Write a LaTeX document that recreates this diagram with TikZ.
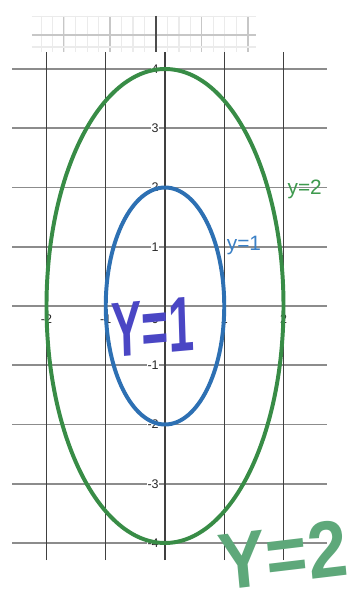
\documentclass[tikz,border=0pt]{standalone}
\usepackage{fontspec}
\setmainfont{Liberation Sans}
\usepackage{xcolor}
\usetikzlibrary{positioning}

\definecolor{ellblue}{HTML}{2D70B3}
\definecolor{ellgreen}{HTML}{388C46}
\definecolor{txtblue}{HTML}{3A80C6}
\definecolor{txtgreen}{HTML}{3E9A4E}
\definecolor{inkpurple}{HTML}{4A46C4}
\definecolor{inkgreen}{HTML}{5EA87A}

\begin{document}
\begin{tikzpicture}[
    hline/.style={draw=black!45, line width=0.9pt},
    vline/.style={draw=black!75, line width=0.55pt},
    thumbfaint/.style={draw=black!8, line width=0.5pt},
    thumbmid/.style={draw=black!22, line width=0.5pt},
    ticklbl/.style={font=\fontsize{6}{6}\selectfont, text=black!85, fill=white, inner sep=0.3pt},
    curve/.style={line width=1.9pt},
    eqlbl/.style={font=\fontsize{10}{12}\selectfont, inner sep=0pt},
    ink/.style={font=\fontsize{22}{22}\selectfont\bfseries, inner sep=0pt, text depth=0pt, transform shape}
]
    % Frame
    \fill[white] (-2.7848,-4.962) rectangle (3.3080,5.1646);
    \useasboundingbox (-2.7848,-4.962) rectangle (3.3080,5.1646);

    % Faint grid thumbnail at the top
    \foreach \i in {-10,...,8} {
        \pgfmathsetmacro{\xx}{-0.152+0.194*\i}
        \draw[thumbfaint] (\xx,4.895) -- (\xx,4.287);
    }
    \foreach \xx in {-1.705,-0.928,0.624,1.401}
        \draw[thumbmid] (\xx,4.895) -- (\xx,4.287);
    \draw[thumbfaint] (-2.245,4.878) -- (1.536,4.878);
    \draw[thumbmid] (-2.245,4.574) -- (1.536,4.574);
    \draw[thumbfaint] (-2.245,4.371) -- (1.536,4.371);
    \draw[draw=black!70, line width=0.5pt] (-0.152,4.895) -- (-0.152,4.287);

    % Grid
    \foreach \y in {-4,...,4}
        \draw[hline] (-2.582,\y) -- (2.734,\y);
    \foreach \x in {-2,...,2}
        \draw[vline] (\x,-4.287) -- (\x,4.287);

    % Tick labels
    \foreach \y in {-4,-3,-2,-1,1,2,3,4}
        \node[ticklbl, anchor=east] (yl\y) at (-0.09,\y) {\y};
    \foreach \x in {-2,-1,1,2}
        \node[ticklbl, anchor=north] (xl\x) at (\x,-0.13) {\x};
    \node[ticklbl, anchor=north east] (xl0) at (-0.09,-0.13) {0};

    % Level curves
    \draw[curve, ellgreen] (0,0) ellipse [x radius=2, y radius=4];
    \draw[curve, ellblue] (0,0) ellipse [x radius=1, y radius=2];

    % Curve labels
    \node[eqlbl, text=txtblue] (lblone) at (1.333,1.02) {y=1};
    \node[eqlbl, text=txtgreen] (lbltwo) at (2.358,1.96) {y=2};

    % Handwritten notes
    \node[ink, text=inkpurple, yscale=1.7, rotate=3] (inkone) at (-0.21,-0.36) {Y=1};
    \node[ink, text=inkgreen, xscale=1.55, yscale=1.75, rotate=6] (inktwo) at (1.99,-4.2) {Y=2};
\end{tikzpicture}
\end{document}
